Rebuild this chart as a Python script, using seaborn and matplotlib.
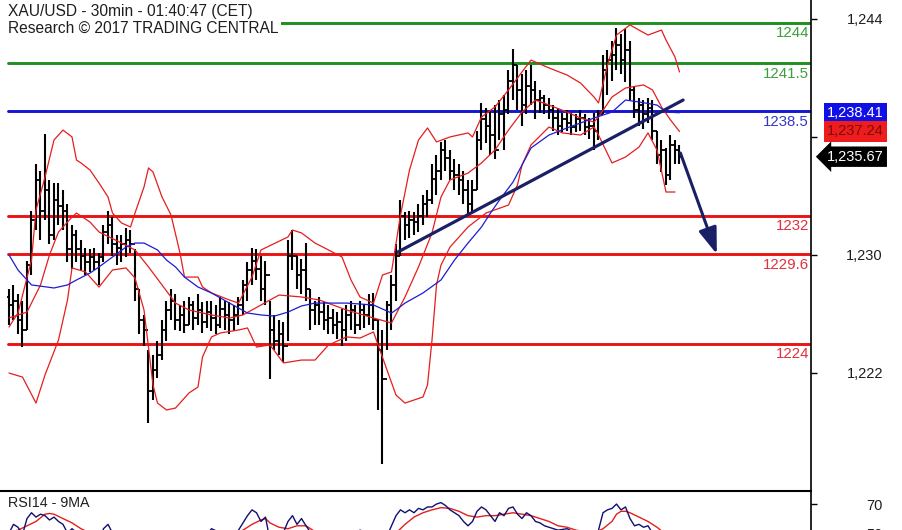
import numpy as np
import matplotlib
matplotlib.use("Agg")
import matplotlib.pyplot as plt
import seaborn as sns

# ---------------- XAU/USD 30-min bars (index = bar number) ----------------
high = [1227.4, 1227.7, 1227.1, 1226.7, 1229.2, 1232.3, 1235.2, 1234.8, 1237.1, 1234.2,
        1234.0, 1234.0, 1233.6, 1232.7, 1231.4, 1231.1, 1230.5, 1230.0, 1229.9, 1230.0,
        1229.7, 1231.4, 1232.3, 1231.9, 1230.8, 1230.8, 1231.2, 1231.1, 1229.9, 1227.4,
        1225.8, 1223.6, 1223.3, 1224.2, 1225.5, 1226.7, 1227.4, 1227.1, 1226.4, 1226.7,
        1226.9, 1226.7, 1227.1, 1226.6, 1226.7, 1226.7, 1226.4, 1226.9, 1226.7, 1226.6,
        1226.4, 1226.9, 1228.0, 1229.1, 1230.0, 1229.9, 1229.5, 1229.2, 1226.7, 1225.8,
        1225.5, 1225.4, 1230.5, 1231.1, 1229.5, 1229.3, 1230.3, 1227.4, 1226.7, 1226.9,
        1226.6, 1226.4, 1226.2, 1226.0, 1226.2, 1226.4, 1226.7, 1226.4, 1226.7, 1226.5,
        1227.1, 1227.2, 1225.5, 1224.9, 1226.7, 1228.3, 1230.2, 1233.0, 1232.2, 1232.3,
        1232.2, 1232.7, 1233.3, 1233.6, 1235.2, 1235.8, 1236.6, 1236.7, 1236.1, 1235.5,
        1235.2, 1234.8, 1234.2, 1234.2, 1237.3, 1239.0, 1238.7, 1238.6, 1238.9, 1239.2,
        1239.5, 1241.1, 1242.4, 1241.4, 1240.8, 1241.1, 1241.4, 1240.4, 1239.8, 1239.5,
        1239.3, 1238.9, 1238.7, 1238.4, 1238.6, 1238.4, 1238.3, 1238.6, 1238.3, 1238.1,
        1238.4, 1238.6, 1242.0, 1242.3, 1242.9, 1243.7, 1243.3, 1243.6, 1242.9, 1240.1,
        1239.3, 1239.2, 1239.3, 1239.2, 1237.3, 1236.7, 1236.2, 1237.0, 1236.7, 1236.4]
low = [1225.2, 1225.5, 1224.6, 1223.8, 1224.9, 1228.3, 1231.1, 1230.5, 1231.7, 1230.2,
       1230.5, 1231.4, 1231.1, 1229.1, 1228.7, 1229.1, 1228.6, 1228.3, 1228.5, 1228.6,
       1227.7, 1229.1, 1230.2, 1229.5, 1228.9, 1229.1, 1229.4, 1229.7, 1226.7, 1224.6,
       1223.9, 1219.1, 1220.5, 1221.9, 1223.0, 1224.2, 1225.5, 1224.9, 1224.8, 1224.7,
       1225.2, 1224.9, 1225.2, 1224.7, 1225.0, 1224.8, 1224.6, 1225.0, 1224.9, 1224.6,
       1224.8, 1225.2, 1225.8, 1226.7, 1227.7, 1228.0, 1226.7, 1226.4, 1221.8, 1223.6,
       1223.3, 1222.9, 1224.2, 1228.6, 1227.4, 1227.1, 1226.7, 1224.9, 1225.2, 1225.2,
       1224.9, 1224.6, 1224.6, 1224.3, 1223.9, 1224.2, 1224.9, 1224.6, 1224.9, 1225.0,
       1225.2, 1224.9, 1219.9, 1216.5, 1223.6, 1224.9, 1226.7, 1229.5, 1230.5, 1230.6,
       1230.8, 1231.0, 1231.4, 1231.9, 1232.7, 1233.3, 1234.2, 1234.8, 1234.2, 1233.6,
       1233.3, 1232.7, 1232.0, 1232.2, 1233.6, 1236.1, 1236.5, 1235.8, 1235.5, 1236.7,
       1236.1, 1238.3, 1239.2, 1238.6, 1237.6, 1238.3, 1238.9, 1238.0, 1238.4, 1238.3,
       1238.0, 1237.3, 1237.0, 1237.2, 1237.3, 1237.0, 1237.2, 1237.3, 1237.0, 1236.8,
       1236.1, 1236.7, 1238.3, 1239.5, 1240.4, 1241.1, 1240.8, 1240.3, 1239.2, 1238.1,
       1237.6, 1237.4, 1237.8, 1236.7, 1235.2, 1234.7, 1233.9, 1234.2, 1235.2, 1235.2]
close = [1226.4, 1226.7, 1225.5, 1224.9, 1228.9, 1231.7, 1234.2, 1232.3, 1233.6, 1230.8,
         1233.0, 1232.6, 1232.3, 1229.9, 1230.8, 1229.9, 1229.5, 1229.1, 1229.4, 1229.1,
         1229.4, 1231.0, 1231.4, 1230.2, 1230.0, 1230.2, 1230.5, 1230.2, 1227.4, 1225.5,
         1224.9, 1221.1, 1222.4, 1223.3, 1224.9, 1226.1, 1226.7, 1225.5, 1225.8, 1225.2,
         1226.4, 1225.6, 1226.1, 1225.4, 1226.0, 1225.6, 1225.2, 1226.2, 1225.8, 1225.5,
         1225.8, 1226.4, 1227.7, 1228.6, 1229.2, 1228.7, 1227.4, 1228.3, 1224.9, 1224.2,
         1224.6, 1223.9, 1229.5, 1229.5, 1228.3, 1228.6, 1227.4, 1226.1, 1226.4, 1226.0,
         1225.5, 1225.6, 1225.2, 1225.4, 1224.9, 1225.8, 1226.1, 1225.2, 1226.1, 1225.8,
         1226.4, 1225.5, 1223.6, 1221.8, 1226.4, 1227.7, 1229.5, 1232.0, 1231.4, 1231.7,
         1231.6, 1232.0, 1232.7, 1233.0, 1234.3, 1234.8, 1236.1, 1235.6, 1234.8, 1234.5,
         1234.2, 1233.6, 1232.7, 1233.6, 1236.7, 1238.0, 1237.6, 1237.0, 1236.1, 1238.3,
         1238.6, 1240.4, 1241.4, 1239.8, 1238.9, 1240.1, 1239.8, 1239.2, 1239.3, 1238.9,
         1238.6, 1238.1, 1237.6, 1238.0, 1237.8, 1237.5, 1238.0, 1238.1, 1237.5, 1237.6,
         1237.3, 1238.3, 1241.1, 1241.7, 1242.0, 1242.6, 1241.7, 1242.3, 1239.8, 1238.6,
         1238.9, 1238.3, 1238.7, 1237.3, 1235.8, 1236.1, 1234.5, 1236.4, 1236.1, 1235.67]
first_open = 1226.9

# ---------------- Bollinger bands (20) and moving average ----------------
upper_idx = [0, 2, 5, 6, 8, 10, 12, 14, 15, 16, 18, 20, 22, 23, 25, 27, 28, 30, 31, 32,
             34, 36, 38, 39, 42, 43, 45, 49, 51, 54, 56, 62, 63, 65, 68, 71, 74, 76, 78, 81,
             83, 85, 87, 89, 91, 93, 95, 98, 102, 103, 105, 108, 111, 114, 116, 120, 124, 127,
             130, 131, 133, 135, 138, 140, 142, 145, 146, 148, 149]
upper = [1225.06, 1225.93, 1229.23, 1232.35, 1234.40, 1236.71, 1237.33, 1236.90, 1235.46, 1235.28,
         1234.84, 1234.03, 1233.16, 1232.16, 1231.54, 1231.29, 1232.16, 1233.78, 1234.97, 1234.72,
         1233.16, 1232.04, 1229.67, 1228.17, 1228.17, 1227.55, 1227.18, 1226.74, 1226.55, 1228.17,
         1229.86, 1230.67, 1231.10, 1230.92, 1230.29, 1229.86, 1229.42, 1227.99, 1226.93, 1226.55,
         1228.30, 1228.49, 1232.04, 1234.84, 1236.71, 1237.46, 1236.59, 1236.90, 1237.15, 1236.90,
         1238.14, 1238.77, 1239.83, 1240.95, 1241.69, 1241.20, 1240.76, 1240.26, 1239.39, 1239.02,
         1241.38, 1243.25, 1243.88, 1243.56, 1243.25, 1243.56, 1242.94, 1241.88, 1240.95]
mid_idx = [0, 4, 7, 9, 11, 14, 15, 18, 20, 25, 28, 31, 34, 37, 40, 45, 49, 52, 56, 60,
           65, 69, 75, 81, 85, 88, 91, 94, 96, 98, 102, 105, 108, 111, 114, 117, 120, 124, 127, 130,
           131, 134, 137, 141, 143, 145, 147, 149]
mid = [1225.62, 1225.99, 1227.68, 1229.55, 1230.98, 1231.91, 1232.16, 1231.60, 1230.98, 1230.29,
       1229.86, 1228.80, 1227.68, 1226.55, 1226.12, 1225.81, 1225.62, 1225.81, 1226.43, 1227.05,
       1226.93, 1226.74, 1226.12, 1225.62, 1225.31, 1226.93, 1228.80, 1230.92, 1233.16, 1234.22,
       1234.65, 1235.28, 1236.09, 1237.33, 1238.45, 1239.20, 1238.89, 1238.45, 1238.08, 1237.83,
       1238.14, 1239.39, 1239.95, 1240.14, 1239.83, 1238.77, 1237.96, 1237.24]
lower_idx = [0, 3, 6, 8, 11, 13, 14, 17, 20, 23, 26, 28, 30, 32, 33, 35, 37, 40, 42, 43,
             45, 47, 51, 53, 55, 58, 61, 65, 68, 71, 75, 78, 81, 84, 86, 88, 92, 93, 94, 95,
             96, 98, 102, 106, 111, 113, 114, 116, 120, 123, 127, 130, 131, 134, 137, 140, 142,
             144, 146, 148]
lower = [1222.19, 1221.94, 1220.32, 1222.07, 1224.25, 1226.74, 1228.74, 1228.49, 1227.55, 1228.61,
         1228.74, 1228.11, 1226.12, 1221.45, 1220.32, 1219.89, 1220.01, 1220.95, 1221.32, 1223.19,
         1224.44, 1224.69, 1224.87, 1225.00, 1223.81, 1223.94, 1222.82, 1223.00, 1223.00, 1223.94,
         1224.44, 1224.37, 1224.75, 1222.38, 1220.82, 1220.32, 1220.70, 1221.45, 1224.25, 1227.68,
         1228.92, 1230.04, 1231.29, 1232.16, 1232.66, 1233.91, 1235.15, 1236.40, 1237.52, 1237.15,
         1237.02, 1237.52, 1237.02, 1235.28, 1235.65, 1236.27, 1237.15, 1236.09, 1233.47, 1233.47]
ma_idx = [0, 2, 4, 5, 10, 13, 15, 18, 20, 23, 26, 28, 30, 33, 35, 37, 39, 42, 45, 49,
          53, 56, 59, 62, 65, 68, 75, 81, 85, 86, 88, 92, 96, 99, 102, 105, 107, 109, 112, 116,
          120, 124, 130, 134, 137, 140, 144, 146, 149]
ma = [1229.55, 1228.61, 1227.99, 1227.68, 1227.49, 1227.68, 1227.99, 1228.42, 1228.80, 1229.42,
      1230.04, 1230.29, 1230.29, 1229.86, 1229.23, 1228.80, 1228.17, 1227.55, 1227.18, 1226.55,
      1225.93, 1225.81, 1225.74, 1225.99, 1226.37, 1226.55, 1226.55, 1226.43, 1225.93, 1226.12,
      1226.55, 1227.18, 1227.99, 1229.23, 1230.29, 1231.29, 1232.16, 1232.97, 1234.09, 1236.21,
      1237.02, 1237.46, 1238.08, 1238.45, 1239.20, 1239.08, 1238.89, 1238.45, 1238.41]

# ---------------- support / resistance levels ----------------
levels = [1244, 1241.5, 1238.5, 1232, 1229.6, 1224]
level_labels = ["1244", "1241.5", "1238.5", "1232", "1229.6", "1224"]
level_kinds = ["res", "res", "pivot", "sup", "sup", "sup"]

# rising trendline and projected move
trend_idx = [86.4, 149.8]
trend_px = [1229.73, 1239.20]
move_from = (149.2, 1235.9)
move_to = (157.3, 1229.6)

# last values shown in the price tags
tag_values = [1238.41, 1237.24, 1235.67]

# price axis ticks
price_ticks = [1222.2, 1229.55, 1236.9, 1244.25]
price_tick_labels = ["1,222", "1,230", "", "1,244"]

# ---------------- RSI(14) and its 9-period average ----------------
rsi_idx = list(range(0, 15)) + [16, 18, 20, 21, 22, 23, 24, 26, 28, 30, 31, 33, 35, 37, 39, 41,
                                43, 45, 47, 49, 51, 53, 54, 55, 56, 57, 58, 60, 62, 63, 64, 65,
                                66, 68, 70, 72, 74, 76, 78, 80] \
    + list(range(81, 121)) + [122, 124, 126, 128, 130] + list(range(131, 150))
rsi = [50, 56, 54, 49, 60, 64, 61, 63, 62, 59, 61, 58, 56, 50, 53,
       48, 46, 44, 53, 56, 50, 47, 49, 38, 33, 28, 35, 45, 50, 44, 48, 45, 53, 50, 46, 52, 62, 66,
       64, 58, 61, 45, 43, 58, 62, 56, 60, 55, 46, 44, 43, 45, 48, 52, 50,
       47, 38, 33, 48, 55, 62, 66, 64, 66, 64, 67, 66, 68, 68, 70, 71, 69, 66, 64, 62,
       58, 55, 58, 65, 68, 66, 62, 58, 64, 62, 67, 68, 63, 60, 64, 62, 58, 57, 55, 54,
       52, 53, 50, 49, 48,
       52, 64, 66, 67, 70, 66, 68, 60, 55, 56, 54, 55, 50, 42, 44, 40, 46, 45, 43]
sig_idx = [0, 2, 4, 6, 8, 9, 10, 12, 14, 16, 18, 20, 22, 24, 26, 28, 30, 32, 34, 36,
           38, 40, 44, 48, 50, 52, 54, 56, 57, 58, 60, 62, 64, 66, 68, 70, 74, 78, 80, 82,
           84, 86, 88, 90, 92, 94, 96, 98, 100, 102, 104, 106, 108, 110, 112, 114, 116, 118, 120, 122,
           124, 126, 128, 130, 132, 134, 135, 136, 137, 138, 140, 142, 144, 146, 148, 149]
sig = [50, 52, 55, 58, 63, 63.5, 63, 60, 57, 53, 50, 48, 49, 48, 47, 44, 40, 36, 37, 40,
       44, 46, 47, 48, 49, 52, 56, 59, 60, 57, 54, 53, 55, 55, 51, 48, 45, 47, 48, 46,
       45, 50, 56, 61, 64, 66, 67.5, 67, 65, 62, 61, 62, 62, 63, 64, 63, 62, 60, 58, 55,
       54, 52, 51, 50, 53, 58, 63, 65, 65, 64, 61, 58, 54, 49, 46, 45]

# ---------------- styling ----------------
sns.set_theme(style="white")
plt.rcParams["font.family"] = ["Liberation Sans", "DejaVu Sans"]

BAR = "#000000"
BAND_RED = "#e41e1e"
MA_BLUE = "#1c1cd2"
NAVY = "#1b1f66"
LEVEL_COL = {"res": "#1f8f1f", "pivot": "#1414d2", "sup": "#ea1414"}
LABEL_COL = {"res": "#3c9e3c", "pivot": "#3636c6", "sup": "#e2303a"}
TEXT = "#1e1e1e"

W, H = 903, 530
fig = plt.figure(figsize=(W / 100, H / 100), dpi=100)
fig.patch.set_facecolor("white")

px = 4.5                      # bar spacing in pixels
x0 = 9                        # pixel column of bar 0
ax_w = 811                    # plot area width in pixels
main_h = 491                  # price panel height in pixels
ax = fig.add_axes([0, (H - main_h) / H, ax_w / W, main_h / H])

# price scale: 16.05 px per dollar, 1244 at row 23
p_top = 1244 + 23 / 16.05
p_bot = 1244 - (main_h - 23) / 16.05
ax.set_xlim(-x0 / px, (ax_w - x0) / px)
ax.set_ylim(p_bot, p_top)
ax.set_facecolor("white")

# support / resistance lines with their labels
for lv, lab, kind in zip(levels, level_labels, level_kinds):
    ax.axhline(lv, xmin=8 / ax_w, xmax=1, color=LEVEL_COL[kind], lw=2.1, zorder=1.5)
    ax.annotate(lab, xy=(809 / ax_w, lv), xycoords=("axes fraction", "data"),
                xytext=(0, -2.5), textcoords="offset points", ha="right", va="top",
                fontsize=10.8, color=LABEL_COL[kind], zorder=6)

# OHLC bars
idx = np.arange(len(close))
opens = np.r_[first_open, np.asarray(close[:-1])]
ax.vlines(idx, low, high, color=BAR, lw=1.5, zorder=2)
ax.hlines(opens, idx - 0.45, idx, color=BAR, lw=1.3, zorder=2)
ax.hlines(close, idx, idx + 0.45, color=BAR, lw=1.3, zorder=2)

# bands and average
for xs, ys, col in [(upper_idx, upper, BAND_RED), (mid_idx, mid, BAND_RED),
                    (lower_idx, lower, BAND_RED), (ma_idx, ma, MA_BLUE)]:
    sns.lineplot(x=xs, y=ys, ax=ax, color=col, lw=0.9, estimator=None, sort=False,
                 zorder=3, legend=False)

# trendline and projected move
ax.plot(trend_idx, trend_px, color=NAVY, lw=2.3, solid_capstyle="round", zorder=4)
ax.annotate("", xy=move_to, xytext=move_from,
            arrowprops=dict(arrowstyle="-|>,head_length=0.8,head_width=0.28",
                            mutation_scale=20, color=NAVY, lw=2.2,
                            shrinkA=0, shrinkB=0), zorder=4)

# header
ax.text(8 / ax_w, 1 - 4 / main_h,
        "XAU/USD - 30min - 01:40:47 (CET)\nResearch \u00a9 2017 TRADING CENTRAL",
        transform=ax.transAxes, ha="left", va="top", fontsize=11.2, color=TEXT,
        linespacing=1.12, zorder=10,
        bbox=dict(boxstyle="square,pad=0.15", fc="white", ec="none"))

# right price axis
for s in ["left", "top", "bottom"]:
    ax.spines[s].set_visible(False)
ax.spines["right"].set_color("black")
ax.spines["right"].set_linewidth(1.2)
ax.set_xticks([])
ax.yaxis.tick_right()
ax.set_yticks(price_ticks)
ax.set_yticklabels(price_tick_labels, ha="right", fontsize=10.5, color=TEXT)
ax.tick_params(axis="y", which="both", direction="out", length=4.3, width=1.0,
               color="black", pad=47.5, right=True, left=False)
ax.set_xlabel("")
ax.set_ylabel("")

# price tags
tag_styles = [("square", "#1010e6", "white"),
              ("square", "#ee1c1c", "#7a0a0a"),
              ("larrow", "#000000", "white")]
for val, (style, fc, tc) in zip(tag_values, tag_styles):
    ax.annotate(f"{val:,.2f}", xy=(827, val), xycoords=("figure pixels", "data"),
                ha="left", va="center", fontsize=10.5, color=tc, annotation_clip=False,
                zorder=20,
                bbox=dict(boxstyle=f"{style},pad=0.22", fc=fc, ec="none"))

# ---------------- RSI panel ----------------
rsi_top = 79
rsi_scale = 1.45              # px per RSI point
rsi_h = rsi_top * rsi_scale
rax = fig.add_axes([0, (H - main_h - rsi_h) / H, ax_w / W, rsi_h / H])
rax.set_xlim(ax.get_xlim())
rax.set_ylim(0, rsi_top)
rax.set_facecolor("white")
sns.lineplot(x=sig_idx, y=sig, ax=rax, color=BAND_RED, lw=1.0, estimator=None,
             sort=False, legend=False)
sns.lineplot(x=rsi_idx, y=rsi, ax=rax, color="#10106e", lw=1.0, estimator=None,
             sort=False, legend=False)
for s in ["left", "bottom"]:
    rax.spines[s].set_visible(False)
rax.spines["top"].set_color("black")
rax.spines["top"].set_linewidth(1.5)
rax.spines["right"].set_color("black")
rax.spines["right"].set_linewidth(1.2)
rax.set_xticks([])
rax.yaxis.tick_right()
rax.set_yticks([50, 70])
rax.set_yticklabels(["50", "70"], ha="right", fontsize=10.5, color=TEXT)
rax.tick_params(axis="y", direction="out", length=4.3, width=1.0, color="black",
                pad=47.5, right=True, left=False)
rax.set_xlabel("")
rax.set_ylabel("")
rax.text(8 / ax_w, 1 - 12 / rsi_h, "RSI14 - 9MA", transform=rax.transAxes,
         ha="left", va="center", fontsize=10.3, color=TEXT)

fig.savefig("out.png", dpi=100, facecolor="white")
